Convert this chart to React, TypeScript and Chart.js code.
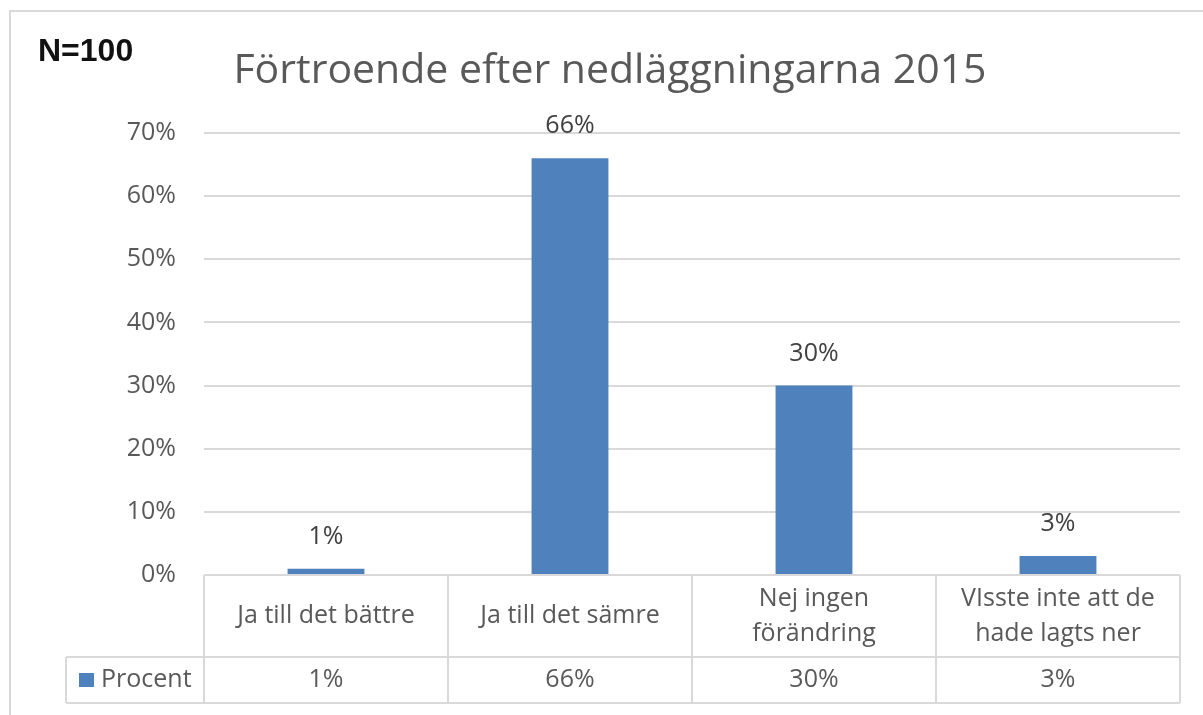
import React, { useEffect, useRef } from "react";
import { Chart, registerables } from "chart.js";

Chart.register(...registerables);

const categories: string[][] = [
  ["Ja till det bättre"],
  ["Ja till det sämre"],
  ["Nej ingen", "förändring"],
  ["VIsste inte att de", "hade lagts ner"],
];
const procentValues: number[] = [1, 66, 30, 3];
const seriesName = "Procent";
const titleText = "Förtroende efter nedläggningarna 2015";
const noteText = "N=100";
const yTicks: number[] = [0, 10, 20, 30, 40, 50, 60, 70];

const BAR_COLOR = "#4f81bd";
const GRID = "#d9d9d9";
const TEXT = "#595959";
const FONT = "'Open Sans', sans-serif";

const decorPlugin = {
  id: "decor",
  afterDatasetsDraw(chart: any) {
    const ctx = chart.ctx as CanvasRenderingContext2D;
    const meta = chart.getDatasetMeta(0);
    ctx.save();
    ctx.font = `25px ${FONT}`;
    ctx.fillStyle = "#404040";
    ctx.textAlign = "center";
    ctx.textBaseline = "middle";
    meta.data.forEach((bar: any, i: number) => {
      ctx.fillText(`${procentValues[i]}%`, bar.x, bar.y - 32);
    });
    ctx.restore();
  },
  afterDraw(chart: any) {
    const ctx = chart.ctx as CanvasRenderingContext2D;
    const area = chart.chartArea;
    const n = categories.length;
    const colW = (area.right - area.left) / n;
    const top = area.bottom;
    const mid = top + 82;
    const bot = mid + 46;
    const legendLeft = 66;

    ctx.save();
    // outer frame
    ctx.strokeStyle = GRID;
    ctx.lineWidth = 2;
    ctx.beginPath();
    ctx.moveTo(10, 715);
    ctx.lineTo(10, 11);
    ctx.lineTo(1203, 11);
    ctx.stroke();

    // table lines
    ctx.beginPath();
    ctx.moveTo(area.left, top);
    ctx.lineTo(area.right, top);
    ctx.moveTo(legendLeft, mid);
    ctx.lineTo(area.right, mid);
    ctx.moveTo(legendLeft, bot);
    ctx.lineTo(area.right, bot);
    ctx.moveTo(legendLeft, mid);
    ctx.lineTo(legendLeft, bot);
    for (let i = 0; i <= n; i++) {
      const x = area.left + i * colW;
      ctx.moveTo(x, top);
      ctx.lineTo(x, bot);
    }
    ctx.stroke();

    // category labels
    ctx.fillStyle = TEXT;
    ctx.font = `25px ${FONT}`;
    ctx.textAlign = "center";
    ctx.textBaseline = "middle";
    const lineH = 35;
    categories.forEach((lines, i) => {
      const cx = area.left + (i + 0.5) * colW;
      const cy = (top + mid) / 2;
      const startY = cy - ((lines.length - 1) * lineH) / 2;
      lines.forEach((ln, j) => ctx.fillText(ln, cx, startY + j * lineH));
      ctx.fillText(`${procentValues[i]}%`, cx, (mid + bot) / 2);
    });

    // legend cell
    ctx.fillStyle = BAR_COLOR;
    ctx.fillRect(79, 673, 15, 14);
    ctx.fillStyle = TEXT;
    ctx.textAlign = "left";
    ctx.fillText(seriesName, 101, (mid + bot) / 2);

    // title
    ctx.font = `41px ${FONT}`;
    ctx.textAlign = "center";
    ctx.textBaseline = "alphabetic";
    ctx.fillStyle = TEXT;
    ctx.fillText(titleText, 610, 83);

    // N=100
    ctx.font = `bold 32px 'Liberation Sans', Arial, sans-serif`;
    ctx.textAlign = "left";
    ctx.fillStyle = "#111111";
    ctx.fillText(noteText, 38, 61);
    ctx.restore();
  },
};

export default function App() {
  const ref = useRef<HTMLCanvasElement | null>(null);
  useEffect(() => {
    if (!ref.current) return;
    const chart = new Chart(ref.current, {
      type: "bar",
      data: {
        labels: categories.map((c) => c.join(" ")),
        datasets: [
          {
            label: seriesName,
            data: procentValues,
            backgroundColor: BAR_COLOR,
            categoryPercentage: 1,
            barPercentage: 0.315,
          },
        ],
      },
      options: {
        responsive: false,
        animation: false,
        layout: { padding: { left: 0, top: 133, right: 23, bottom: 140 } },
        plugins: {
          legend: { display: false },
          title: { display: false },
          tooltip: { enabled: false },
        },
        scales: {
          x: { display: false },
          y: {
            min: yTicks[0],
            max: yTicks[yTicks.length - 1],
            afterFit: (scale: any) => {
              scale.width = 204;
            },
            afterBuildTicks: (scale: any) => {
              scale.ticks = yTicks.map((v) => ({ value: v }));
            },
            ticks: {
              callback: (v: any) => `${v}%`,
              color: TEXT,
              font: { family: "'Open Sans', sans-serif", size: 25 },
              padding: 28,
            },
            grid: { color: GRID, lineWidth: 2, drawTicks: false },
            border: { display: false },
          },
        },
      },
      plugins: [decorPlugin],
    });
    return () => chart.destroy();
  }, []);
  return (
    <div style={{ position: "absolute", left: 0, top: 0, width: 1203, height: 715, background: "#fff" }}>
      <canvas ref={ref} width={1203} height={715} style={{ width: 1203, height: 715, display: "block" }} />
    </div>
  );
}
